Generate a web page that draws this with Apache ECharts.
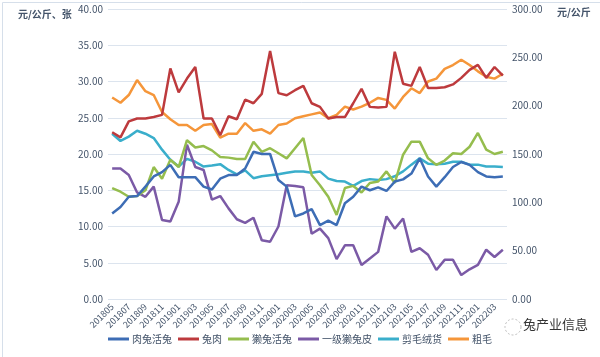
<!DOCTYPE html>
<html><head><meta charset="utf-8">
<script src="https://cdn.jsdelivr.net/npm/echarts@6/dist/echarts.min.js"></script>
<style>html,body{margin:0;padding:0;background:#fff}#c{width:600px;height:357px}</style>
</head><body><div id="c"></div>
<script>
const categories = ['201805','201806','201807','201808','201809','201810','201811','201812',
'201901','201902','201903','201904','201905','201906','201907','201908','201909','201910','201911','201912',
'202001','202002','202003','202004','202005','202006','202007','202008','202009','202010','202011','202012',
'202101','202102','202103','202104','202105','202106','202107','202108','202109','202110','202111','202112',
'202201','202202','202203','202204'];
const seriesNames = ['肉兔活兔','兔肉','獭兔活兔','一级獭兔皮','剪毛绒货','粗毛'];
const meatRabbit = [11.8,12.7,14.1,14.2,15.5,16.9,17.5,18.5,16.8,16.8,16.8,15.5,15.1,16.6,17.1,17.1,18.0,20.3,20.0,20.0,16.4,15.5,11.4,11.8,12.4,10.2,10.8,10.2,13.2,14.1,15.5,15.0,15.4,14.9,16.2,16.5,17.3,19.4,16.9,15.5,16.8,18.2,18.9,18.5,17.5,16.9,16.8,16.9];
const rabbitMeat = [23.0,22.3,24.5,24.9,24.9,25.1,25.4,31.8,28.5,30.4,32.0,24.9,24.9,22.6,25.2,24.8,27.5,27.0,28.3,34.2,28.4,28.1,28.8,29.4,27.0,26.5,24.9,25.1,25.1,27.0,29.0,26.5,26.4,26.5,34.1,29.7,29.4,32.0,29.1,29.1,29.2,29.6,30.5,31.6,32.3,30.5,32.0,30.8];
const rexRabbit = [15.3,14.8,14.1,14.2,15.0,18.2,16.6,19.2,18.2,21.9,20.9,21.1,20.5,19.6,19.5,19.3,19.3,21.7,20.3,20.8,20.1,19.4,20.8,22.2,17.1,15.7,14.1,11.6,15.3,15.6,14.7,16.0,16.2,17.6,16.0,19.9,21.7,21.7,19.4,18.5,19.1,20.1,20.0,21.0,22.9,20.6,20.0,20.3];
const rexPelt = [18.0,18.0,17.1,14.7,14.1,15.5,10.9,10.7,13.4,21.3,18.2,17.8,13.7,14.2,12.5,11.0,10.5,11.2,8.1,7.9,10.0,15.7,15.6,15.4,9.0,9.7,8.4,5.5,7.4,7.4,4.7,5.6,6.5,11.4,9.7,11.1,6.5,7.0,6.1,4.0,5.4,5.4,3.3,4.1,4.7,6.8,5.8,6.8];
const shearedWool = [171,163.5,168,174,171,166.5,154.5,144,137,145,142,137,138,139.5,133.5,129,133,125,127,128,129,130.5,132,132,130.5,132,124.5,122,121.5,117,122,124,123,124,127,132,139,145.5,140,139.5,140,142,142,139,139,137,137,136.5];
const coarseHair = [208.5,203,211,226.5,215,211,193.5,186,180,180,174,180,181,167,171,171,182,174,175.5,171,180,181.5,187,189,191,193,187,190.5,199,196,199,203,208,206,197,209,218,213,225,228,238,242,247.5,242,235.5,230,228,233];
const leftTicks = {min:0,max:40,interval:5};
const rightTicks = {min:0,max:300,interval:50};
const colors = ['#3d6db5','#bd3a3d','#95bd4e','#7b5aa6','#3aaecb','#f5963a'];

const FONT = '"Noto Sans CJK SC", "Noto Sans", sans-serif';
const TXT = '#44546a';
const chart = echarts.init(document.getElementById('c'), null, {renderer:'canvas'});
const mk = (name, data, yIdx, i) => ({
  name, type:'line', data, yAxisIndex:yIdx, showSymbol:false, symbol:'none',
  lineStyle:{width:2.5,color:colors[i]}, itemStyle:{color:colors[i]}, z: 10-i
});
chart.setOption({
  animation:false,
  textStyle:{fontFamily:FONT},
  grid:{left:108,right:93,top:9,bottom:58,containLabel:false},
  legend:{
    bottom:8,left:'center',icon:'rect',itemWidth:21,itemHeight:3,itemGap:6,
    textStyle:{color:TXT,fontSize:10,fontFamily:FONT,padding:[0,0,0,-2]},
    data:seriesNames
  },
  xAxis:{
    type:'category',data:categories,boundaryGap:true,
    axisLine:{show:false},axisTick:{show:false},
    axisLabel:{interval:1,rotate:45,fontSize:9,color:TXT,margin:6,fontFamily:FONT}
  },
  yAxis:[
    {type:'value',min:leftTicks.min,max:leftTicks.max,interval:leftTicks.interval,
     axisLine:{show:false},axisTick:{show:false},
     axisLabel:{formatter:v=>v.toFixed(2),fontSize:10,color:TXT,margin:5,fontFamily:FONT},
     splitLine:{lineStyle:{color:'#dce4ee',width:1}}},
    {type:'value',min:rightTicks.min,max:rightTicks.max,interval:rightTicks.interval,
     axisLine:{show:false},axisTick:{show:false},
     axisLabel:{formatter:v=>v.toFixed(2),fontSize:10,color:TXT,margin:5,fontFamily:FONT},
     splitLine:{show:false}}
  ],
  series:[
    mk(seriesNames[0],meatRabbit,0,0),
    mk(seriesNames[1],rabbitMeat,0,1),
    mk(seriesNames[2],rexRabbit,0,2),
    mk(seriesNames[3],rexPelt,0,3),
    mk(seriesNames[4],shearedWool,1,4),
    mk(seriesNames[5],coarseHair,1,5)
  ],
  graphic:[
    {type:'rect',left:0,top:0,shape:{x:0.5,y:0.5,width:599,height:356},style:{fill:'none',stroke:'#d6dfea',lineWidth:1},silent:true},
    {type:'text',left:18,top:9,style:{text:'元/公斤、张',fill:TXT,font:'bold 10px '+FONT}},
    {type:'text',left:557,top:7,style:{text:'元/公斤',fill:TXT,font:'bold 10px '+FONT}},
    {type:'circle',shape:{cx:513,cy:327,r:8},style:{fill:'none',stroke:'#bbbbbb',lineWidth:1,lineDash:[2,2]}},
    {type:'text',left:523,top:318,style:{text:'兔产业信息',fill:'#333333',font:'13px '+FONT}}
  ]
});
</script></body></html>
